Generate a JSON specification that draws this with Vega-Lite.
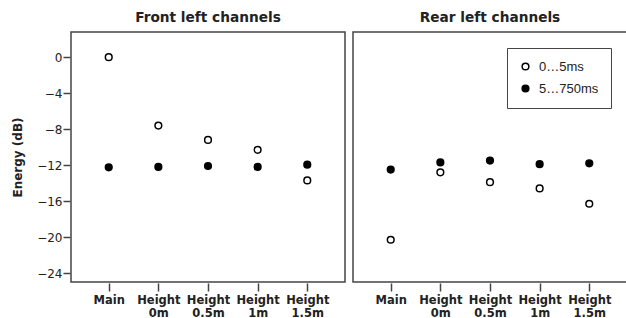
{
  "$schema": "https://vega.github.io/schema/vega-lite/v6.json",
  "background": "white",
  "padding": {"left": 11, "top": 11, "right": 2, "bottom": 0},
  "data": {"values": [
    {"panel": "Front left channels", "pos": "Main", "series": "0…5ms", "energy": 0.0},
    {"panel": "Front left channels", "pos": "Height 0m", "series": "0…5ms", "energy": -7.6},
    {"panel": "Front left channels", "pos": "Height 0.5m", "series": "0…5ms", "energy": -9.2},
    {"panel": "Front left channels", "pos": "Height 1m", "series": "0…5ms", "energy": -10.3},
    {"panel": "Front left channels", "pos": "Height 1.5m", "series": "0…5ms", "energy": -13.7},
    {"panel": "Front left channels", "pos": "Main", "series": "5…750ms", "energy": -12.25},
    {"panel": "Front left channels", "pos": "Height 0m", "series": "5…750ms", "energy": -12.2},
    {"panel": "Front left channels", "pos": "Height 0.5m", "series": "5…750ms", "energy": -12.1},
    {"panel": "Front left channels", "pos": "Height 1m", "series": "5…750ms", "energy": -12.2},
    {"panel": "Front left channels", "pos": "Height 1.5m", "series": "5…750ms", "energy": -11.95},
    {"panel": "Rear left channels", "pos": "Main", "series": "0…5ms", "energy": -20.3},
    {"panel": "Rear left channels", "pos": "Height 0m", "series": "0…5ms", "energy": -12.8},
    {"panel": "Rear left channels", "pos": "Height 0.5m", "series": "0…5ms", "energy": -13.9},
    {"panel": "Rear left channels", "pos": "Height 1m", "series": "0…5ms", "energy": -14.6},
    {"panel": "Rear left channels", "pos": "Height 1.5m", "series": "0…5ms", "energy": -16.3},
    {"panel": "Rear left channels", "pos": "Main", "series": "5…750ms", "energy": -12.5},
    {"panel": "Rear left channels", "pos": "Height 0m", "series": "5…750ms", "energy": -11.7},
    {"panel": "Rear left channels", "pos": "Height 0.5m", "series": "5…750ms", "energy": -11.5},
    {"panel": "Rear left channels", "pos": "Height 1m", "series": "5…750ms", "energy": -11.9},
    {"panel": "Rear left channels", "pos": "Height 1.5m", "series": "5…750ms", "energy": -11.8}
  ]},
  "facet": {
    "column": {
      "field": "panel", "type": "nominal",
      "sort": ["Front left channels", "Rear left channels"],
      "header": {"title": null, "labelFont": "DejaVu Sans", "labelFontWeight": "bold", "labelFontSize": 13.7, "labelColor": "#222", "labelPadding": 6}
    }
  },
  "spacing": 6,
  "spec": {
    "width": 274,
    "height": 250,
    "mark": {"type": "point", "shape": "circle", "filled": true, "size": 45, "stroke": "black", "strokeWidth": 1.5, "opacity": 1},
    "encoding": {
      "x": {
        "field": "pos", "type": "nominal",
        "sort": ["Main", "Height 0m", "Height 0.5m", "Height 1m", "Height 1.5m"],
        "scale": {"type": "point", "padding": 0.76},
        "axis": {"title": null, "labelAngle": 0, "labelExpr": "split(datum.label, ' ')", "labelFont": "DejaVu Sans", "labelFontWeight": "bold", "labelFontSize": 11.5, "labelColor": "#222", "labelLineHeight": 13, "labelPadding": 3, "tickSize": 8, "tickColor": "#444", "tickWidth": 1.5, "domain": false, "grid": false}
      },
      "y": {
        "field": "energy", "type": "quantitative",
        "scale": {"domain": [-25, 2.8], "nice": false, "zero": false},
        "axis": {"title": "Energy (dB)", "titleFont": "DejaVu Sans", "titleFontWeight": "bold", "titleFontSize": 12, "titleColor": "#222", "titlePadding": 12, "values": [0, -4, -8, -12, -16, -20, -24], "labelFont": "DejaVu Sans", "labelFontSize": 12, "labelColor": "#222", "labelPadding": 1, "tickSize": 7, "tickColor": "#444", "tickWidth": 1.5, "domain": false, "grid": false}
      },
      "fill": {
        "field": "series", "type": "nominal",
        "scale": {"domain": ["0…5ms", "5…750ms"], "range": ["white", "black"]},
        "legend": {"title": null, "orient": "none", "legendX": 436, "legendY": 16, "strokeColor": "#444", "padding": 12, "labelFont": "Liberation Sans", "labelFontSize": 13, "labelColor": "#222", "labelOffset": 7, "symbolType": "circle", "symbolSize": 45, "symbolStrokeColor": "black", "symbolStrokeWidth": 1.5, "rowPadding": 8, "fillColor": "white"}
      }
    }
  },
  "config": {
    "view": {"stroke": "#444", "strokeWidth": 1.5}
  }
}
